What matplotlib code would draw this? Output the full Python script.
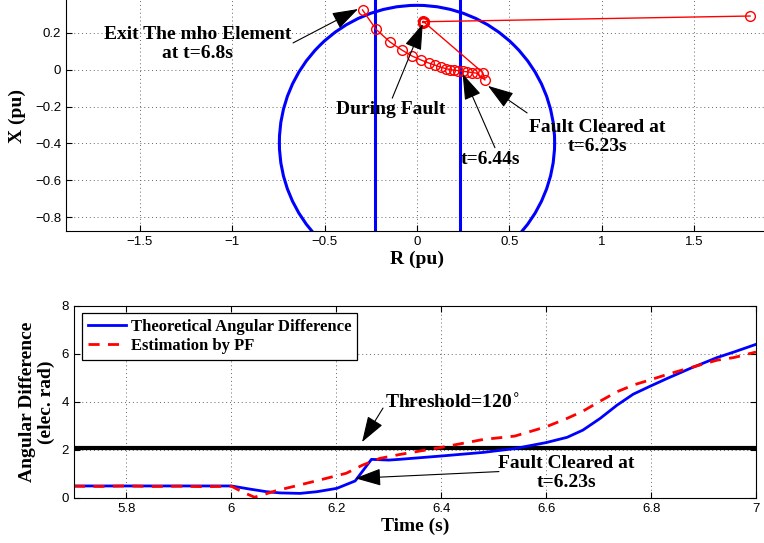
import numpy as np
import matplotlib
matplotlib.use("Agg")
import matplotlib.pyplot as plt
from matplotlib.patches import Circle

# ---------------- data ----------------
# impedance trajectory (R, X) in pu
R_traj = [1.803, 0.034, 0.036, 0.031, 0.038, 0.033, 0.035, 0.037, 0.356, 0.368,
          0.323, 0.298, 0.272, 0.247, 0.222, 0.200, 0.179, 0.155, 0.128, 0.099,
          0.063, 0.020, -0.027, -0.083, -0.146, -0.222, -0.295]
X_traj = [0.292, 0.261, 0.258, 0.262, 0.259, 0.256, 0.263, 0.260, -0.015, -0.055,
          -0.018, -0.015, -0.011, -0.008, -0.004, -0.002, 0.001, 0.007, 0.014, 0.025,
          0.037, 0.054, 0.075, 0.108, 0.151, 0.220, 0.325]

# mho characteristic and blinders
mho_center = (0.0, -0.395)
mho_radius = 0.745
blinders = [-0.23, 0.235]

r_ticks = [-1.5, -1.0, -0.5, 0.0, 0.5, 1.0, 1.5]
r_ticklabels = ["\u22121.5", "\u22121", "\u22120.5", "0", "0.5", "1", "1.5"]
x_ticks = [-0.8, -0.6, -0.4, -0.2, 0.0, 0.2]
x_ticklabels = ["\u22120.8", "\u22120.6", "\u22120.4", "\u22120.2", "0", "0.2"]

# angular difference vs time
t_theo = [5.70, 6.00, 6.035, 6.067, 6.093, 6.131, 6.163, 6.201, 6.236, 6.267, 6.30,
          6.32, 6.40, 6.48, 6.54, 6.60, 6.64, 6.67, 6.703, 6.735, 6.766, 6.798, 6.83,
          6.874, 6.926, 6.958, 7.00]
ang_theo = [0.49, 0.49, 0.36, 0.25, 0.20, 0.18, 0.25, 0.39, 0.70, 1.60, 1.57,
            1.60, 1.74, 1.89, 2.05, 2.30, 2.52, 2.82, 3.31, 3.86, 4.32, 4.65, 4.97,
            5.39, 5.85, 6.08, 6.40]

t_pf = [5.70, 5.75, 5.80, 5.85, 5.90, 5.95, 6.00, 6.02, 6.044, 6.06, 6.085, 6.13,
        6.174, 6.219, 6.25, 6.283, 6.32, 6.40, 6.48, 6.54, 6.60, 6.64, 6.67, 6.703,
        6.735, 6.766, 6.80, 6.83, 6.874, 6.926, 6.958, 7.00]
ang_pf = [0.48, 0.47, 0.49, 0.47, 0.48, 0.46, 0.48, 0.25, 0.02, 0.12, 0.29, 0.53,
          0.77, 1.02, 1.36, 1.64, 1.80, 2.10, 2.43, 2.57, 2.96, 3.31, 3.61, 4.03,
          4.42, 4.70, 4.93, 5.14, 5.42, 5.74, 5.85, 6.08]

threshold = 2 * np.pi / 3  # 120 degrees

t_ticks = [5.8, 6.0, 6.2, 6.4, 6.6, 6.8, 7.0]
t_ticklabels = ["5.8", "6", "6.2", "6.4", "6.6", "6.8", "7"]
a_ticks = [0, 2, 4, 6, 8]
a_ticklabels = ["0", "2", "4", "6", "8"]

# ---------------- style ----------------
W, H = 764, 543
plt.rcParams["font.family"] = ["Liberation Sans", "DejaVu Sans"]
plt.rcParams["xtick.direction"] = "in"
plt.rcParams["ytick.direction"] = "in"
serif = ["Liberation Serif", "DejaVu Serif"]
bold = dict(family=serif, weight="bold", size=14)
arrow = dict(arrowstyle="-|>,head_length=0.9,head_width=0.3", color="black",
             lw=0.8, mutation_scale=18, shrinkA=0, shrinkB=0)
grid_kw = dict(color="0.4", linestyle=(0, (1, 3)), linewidth=0.7)

fig = plt.figure(figsize=(W / 100, H / 100), dpi=100)


def px_axes(left, top, right, bottom):
    return fig.add_axes([left / W, 1 - bottom / H, (right - left) / W, (bottom - top) / H])


# ---------------- top: R-X plane ----------------
ax1 = px_axes(66, 0, 768, 231)
ax1.set_xlim(-1.9, 1.9)
ax1.set_ylim(-0.875, 0.379)
ax1.add_patch(Circle(mho_center, mho_radius, fill=False, edgecolor="#0000ff", lw=2.2))
for b in blinders:
    ax1.axvline(b, color="#0000ff", lw=2.2)
ax1.plot(R_traj, X_traj, color="red", lw=1.0, marker="o", markersize=7,
         markerfacecolor="none", markeredgecolor="red", markeredgewidth=1.0)
ax1.set_xticks(r_ticks)
ax1.set_xticklabels(r_ticklabels)
ax1.set_yticks(x_ticks)
ax1.set_yticklabels(x_ticklabels)
ax1.tick_params(labelsize=9.5, length=4, width=0.8)
ax1.grid(True, **grid_kw)
ax1.set_axisbelow(True)
for s in ("top", "right"):
    ax1.spines[s].set_visible(False)
ax1.set_xlabel("R (pu)", **bold, labelpad=2)

ax1.annotate("", xy=(-0.319, 0.330), xytext=(-0.671, 0.146), arrowprops=arrow)
ax1.text(-1.186, 0.140, "Exit The mho Element\nat t=6.8s", ha="center", va="center",
         linespacing=1.1, **bold)
ax1.annotate("", xy=(0.031, 0.249), xytext=(-0.134, -0.154), arrowprops=arrow)
ax1.text(-0.141, -0.217, "During Fault", ha="center", va="center", **bold)
ax1.annotate("", xy=(0.247, -0.022), xytext=(0.422, -0.423), arrowprops=arrow)
ax1.text(0.395, -0.488, "t=6.44s", ha="center", va="center", **bold)
ax1.annotate("", xy=(0.384, -0.087), xytext=(0.596, -0.234), arrowprops=arrow)
ax1.text(0.975, -0.364, "Fault Cleared at\nt=6.23s", ha="center", va="center",
         linespacing=1.1, **bold)

fig.text(17 / W, 1 - 116 / H, "X (pu)", rotation=90, ha="center", va="center", **bold)

# ---------------- bottom: angular difference ----------------
ax2 = px_axes(74, 306, 756, 497.7)
ax2.set_xlim(5.7, 7.0)
ax2.set_ylim(0, 8)
ax2.axhline(threshold, color="black", lw=3)
ax2.plot(t_theo, ang_theo, color="#0000ff", lw=2.0, label="Theoretical Angular Difference")
ax2.plot(t_pf, ang_pf, color="red", lw=2.0, linestyle=(0, (4, 3)), label="Estimation by PF")
ax2.set_xticks(t_ticks)
ax2.set_xticklabels(t_ticklabels)
ax2.set_yticks(a_ticks)
ax2.set_yticklabels(a_ticklabels)
ax2.tick_params(labelsize=9.5, length=4, width=0.8, top=True, right=True)
ax2.grid(True, **grid_kw)
ax2.set_axisbelow(True)
ax2.set_xlabel("Time (s)", **bold, labelpad=2)

ax2.annotate("", xy=(6.249, 2.32), xytext=(6.289, 3.74), arrowprops=arrow)
ax2.text(6.293, 3.95, "Threshold=120$^{\\circ}$", ha="left", va="center", **bold)
ax2.annotate("", xy=(6.236, 0.81), xytext=(6.51, 1.09), arrowprops=arrow)
ax2.text(6.639, 1.03, "Fault Cleared at\nt=6.23s", ha="center", va="center",
         linespacing=1.1, **bold)

leg = ax2.legend(loc="upper left", bbox_to_anchor=(0.0113, 0.965), borderaxespad=0,
                 prop=dict(family=serif, weight="bold", size=12), fancybox=False,
                 framealpha=1, edgecolor="black", handlelength=2.3, handletextpad=0.3,
                 labelspacing=0.2, borderpad=0.35)
leg.get_frame().set_linewidth(0.9)

fig.text(37 / W, 1 - 402 / H, "Angular Difference\n(elec. rad)", rotation=90,
         ha="center", va="center", linespacing=1.15, **bold)

fig.savefig("out.png", dpi=100)
